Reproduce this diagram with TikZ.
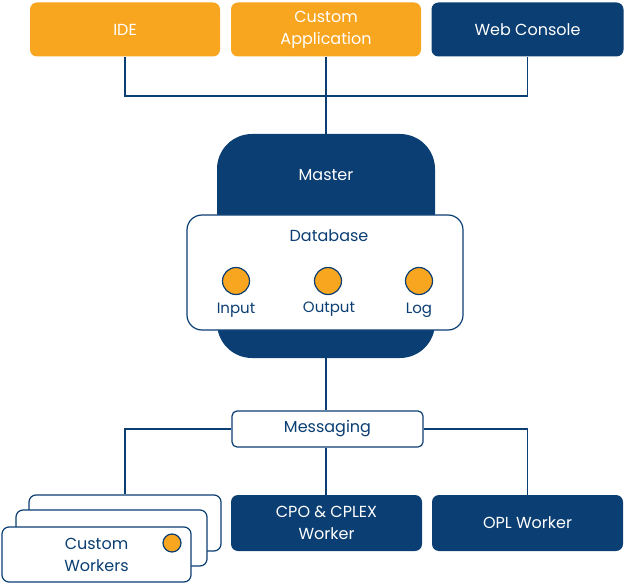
\documentclass[tikz,border=0pt]{standalone}
\usepackage{fontspec}
\setmainfont{Poppins}
\usetikzlibrary{positioning}
\definecolor{navy}{HTML}{0B3E73}
\definecolor{amber}{HTML}{F8A51F}
\tikzset{
  box/.style={rounded corners=7pt,minimum width=190pt,minimum height=54pt,
    align=center,font=\fontsize{16}{22}\selectfont,inner sep=0pt},
  client/.style={box,fill=amber,text=white},
  dark/.style={box,fill=navy,text=white},
  light/.style={box,fill=white,draw=navy,line width=1.2pt,text=navy},
  dot/.style={circle,fill=amber,draw=navy,line width=1.2pt,minimum size=27pt,inner sep=0pt},
  lbl/.style={text=navy,font=\fontsize{15}{16}\selectfont},
  wire/.style={navy,line width=1.5pt}
}
\begin{document}
\begin{tikzpicture}[x=1pt,y=-1pt]
  \useasboundingbox (0,0) rectangle (624,588);
  % clients
  \node[client] (ide) at (125,29.5) {IDE};
  \node[client] (app) at (326,29.5) {Custom\\Application};
  \node[dark,minimum width=192pt] (web) at (527.5,29.5) {Web Console};
  % master
  \node[fill=navy,rounded corners=35pt,minimum width=218pt,minimum height=224pt] (master) at (326,246) {};
  \node[text=white,font=\fontsize{16}{22}\selectfont] (mtitle) at (326,175) {Master};
  \node[light,rounded corners=15pt,minimum width=276pt,minimum height=115pt] (db) at (325,272.5) {};
  \node[lbl,font=\fontsize{16}{22}\selectfont] (dbtitle) at (329,236) {Database};
  \node[dot] (input) at (236,281) {};
  \node[dot] (output) at (328,281) {};
  \node[dot] (log) at (419,281) {};
  \node[lbl] at (236,310) {Input};
  \node[lbl] at (329,309) {Output};
  \node[lbl] at (419,310) {Log};
  % messaging
  \node[light,rounded corners=5pt,minimum width=191pt,minimum height=36pt] (msg) at (327.5,429) {Messaging};
  % workers
  \node[light,minimum width=192pt,minimum height=56pt] (cw3) at (125,523) {};
  \node[light,minimum width=191pt,minimum height=56pt] (cw2) at (111.5,538) {};
  \node[light,minimum width=189pt,minimum height=55pt] (cw1) at (96.5,554.5) {Custom\\Workers};
  \node[circle,fill=amber,draw=navy,line width=1.2pt,minimum size=18pt,inner sep=0pt] (cwdot) at (172,543) {};
  \node[dark,minimum width=191pt,minimum height=56pt] (cpo) at (326.5,523) {CPO \& CPLEX\\Worker};
  \node[dark,minimum width=191pt,minimum height=56pt] (opl) at (527.5,523) {OPL Worker};
  % connectors
  \coordinate (hub) at (326,96);
  \draw[wire] (ide.south) |- (hub) -| (web.south);
  \draw[wire] (app.south) -- (master.north);
  \draw[wire] (master.south) -- (msg.north -| master.south);
  \draw[wire] (msg.west) -| (cw3.north);
  \draw[wire] (msg.east) -| (opl.north);
  \draw[wire] (msg.south -| master.south) -- (cpo.north -| master.south);
\end{tikzpicture}
\end{document}
